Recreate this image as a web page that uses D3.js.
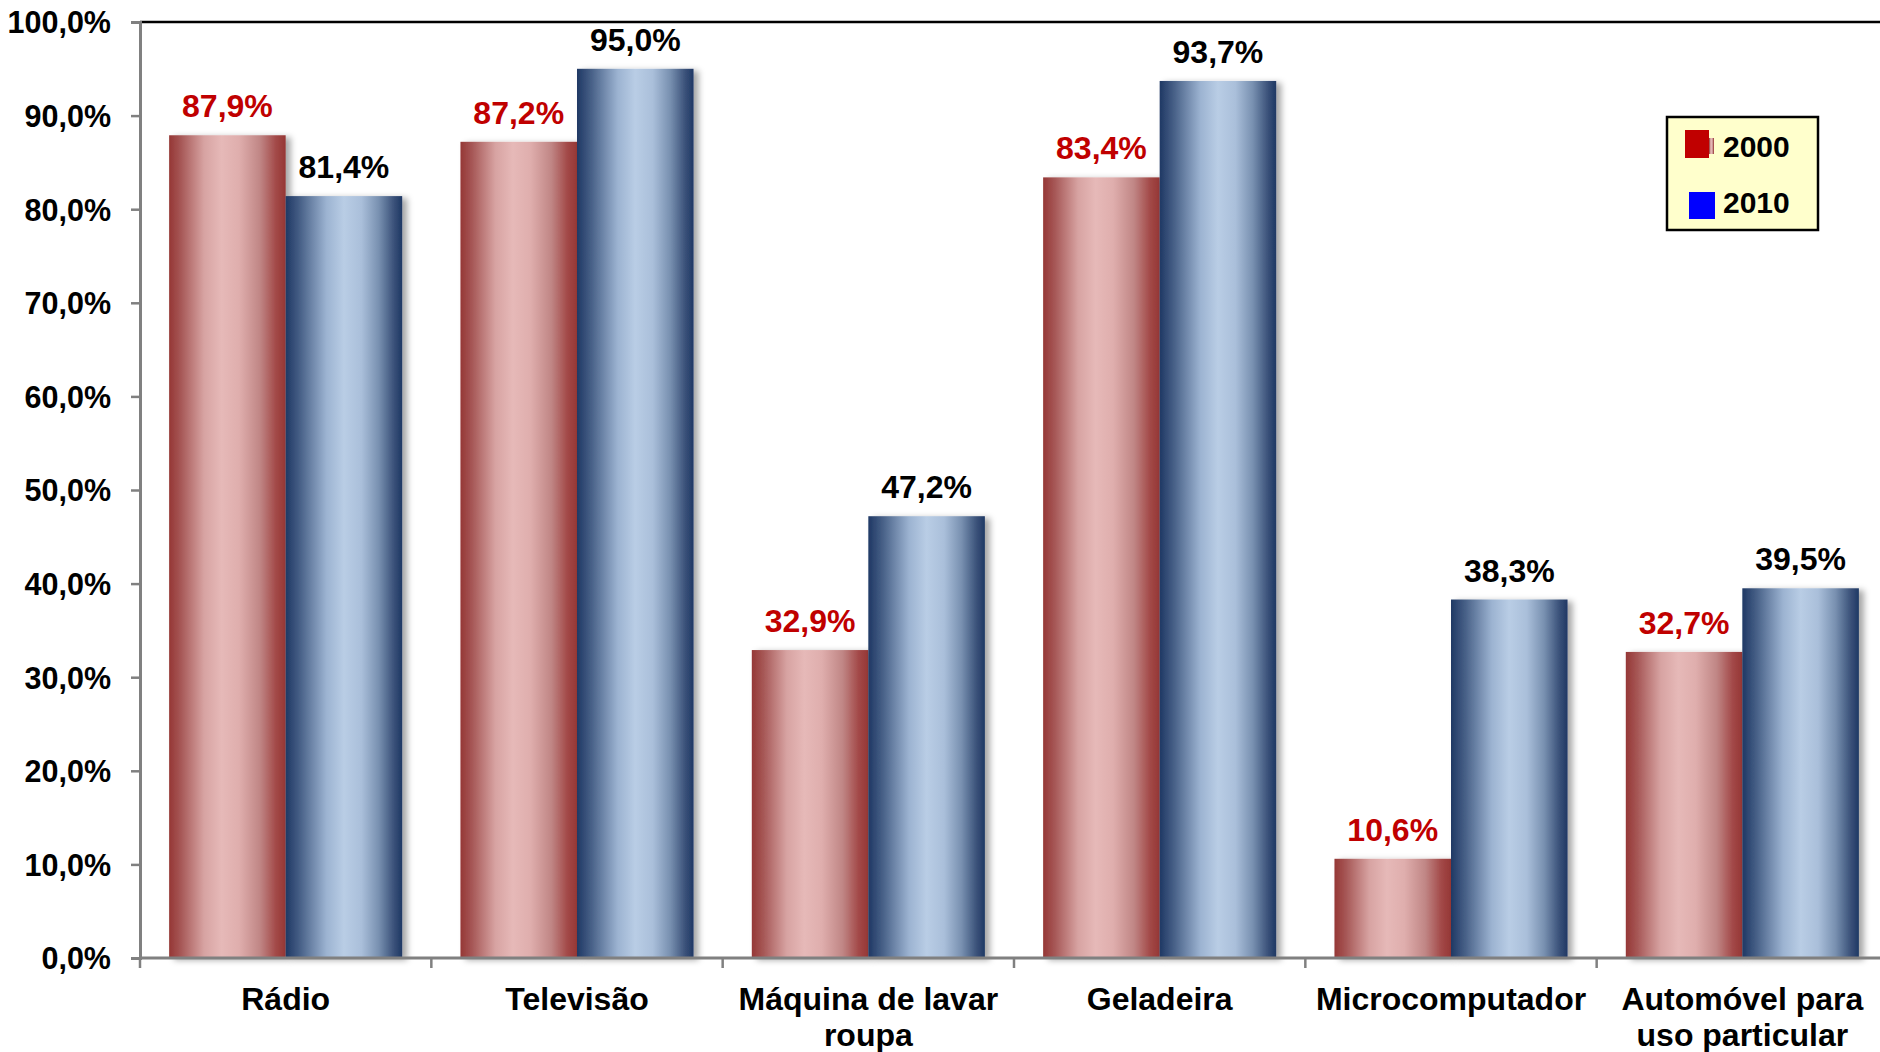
<!DOCTYPE html>
<html><head><meta charset="utf-8">
<script src="https://cdn.jsdelivr.net/npm/d3@7"></script>
<style>body{margin:0;background:#fff}svg{display:block;font-family:"Liberation Sans",Arial,sans-serif;font-weight:bold}</style>
</head><body><svg id="c" width="1880" height="1052"></svg>
<script>
const categories = [["Rádio"],["Televisão"],["Máquina de lavar","roupa"],["Geladeira"],["Microcomputador"],["Automóvel para","uso particular"]];
const series = ["2000","2010"];
const values2000 = [87.9, 87.2, 32.9, 83.4, 10.6, 32.7];
const values2010 = [81.4, 95.0, 47.2, 93.7, 38.3, 39.5];
const yTicks = [0,10,20,30,40,50,60,70,80,90,100];

const svg = d3.select("#c");
const m = {l:140, t:22, b:94};
const W = 1880, H = 1052;
const xOuter = d3.scaleBand().domain(d3.range(categories.length)).range([m.l, 1888]).padding(0);
const x1 = d3.scaleBand().domain(series).range([0, xOuter.bandwidth()]).paddingInner(0).paddingOuter(0.25);
const y = d3.scaleLinear().domain([0,100]).range([H - m.b, m.t]);
const fmt = v => d3.format(".1f")(v).replace(".", ",") + "%";

const defs = svg.append("defs");
function grad(id, stops){
  const g = defs.append("linearGradient").attr("id", id).attr("x1","0").attr("x2","1").attr("y1","0").attr("y2","0");
  stops.forEach(s => g.append("stop").attr("offset", s[0]).attr("stop-color", s[1]));
}
grad("gRed", [[0,"#953735"],[0.1,"#a65756"],[0.3,"#d7a3a2"],[0.45,"#e6b9b8"],[0.6,"#dfaead"],[0.78,"#c08685"],[0.92,"#a24847"],[1,"#953735"]]);
grad("gBlue", [[0,"#1f3864"],[0.12,"#465f86"],[0.35,"#9cb3d1"],[0.5,"#b9cde5"],[0.65,"#aabfda"],[0.8,"#7890b0"],[0.93,"#3a5179"],[1,"#1f3864"]]);
const f = defs.append("filter").attr("id","sh").attr("x","-20%").attr("y","-20%").attr("width","150%").attr("height","150%");
f.append("feDropShadow").attr("dx",5).attr("dy",2).attr("stdDeviation",3).attr("flood-color","#000").attr("flood-opacity",0.35);

// top border
svg.append("line").attr("x1", m.l).attr("x2", W).attr("y1", y(100)).attr("y2", y(100)).attr("stroke","#000").attr("stroke-width",2.5);

// bars
const groups = svg.append("g").selectAll("g").data(categories).join("g")
  .attr("transform", (d,i) => `translate(${xOuter(i)},0)`);
groups.each(function(d,i){
  const g = d3.select(this);
  const vals = [values2000[i], values2010[i]];
  vals.forEach((v,k) => {
    g.append("rect").attr("x", x1(series[k])).attr("width", x1.bandwidth())
      .attr("y", y(v)).attr("height", y(0) - y(v))
      .attr("fill", k === 0 ? "url(#gRed)" : "url(#gBlue)").attr("filter","url(#sh)");
  });
  vals.forEach((v,k) => {
    g.append("text").attr("x", x1(series[k]) + x1.bandwidth()/2).attr("y", y(v) - 18)
      .attr("text-anchor","middle").attr("font-size", 32)
      .attr("fill", k === 0 ? "#c00000" : "#000").text(fmt(v));
  });
});

// y axis
const ya = svg.append("g").attr("transform", `translate(${m.l},0)`)
  .call(d3.axisLeft(y).tickValues(yTicks).tickSize(9).tickFormat(fmt));
ya.select(".domain").attr("stroke","#808080").attr("stroke-width",3);
ya.selectAll(".tick line").attr("stroke","#808080").attr("stroke-width",2.5);
ya.selectAll(".tick text").attr("font-size",30.5).attr("font-family","Liberation Sans, Arial, sans-serif").attr("font-weight","bold").attr("fill","#000").attr("x",-29).attr("dy","0.36em");

// x axis
const base = y(0);
svg.append("line").attr("x1", m.l).attr("x2", W).attr("y1", base).attr("y2", base).attr("stroke","#808080").attr("stroke-width",3);
svg.append("g").selectAll("line").data(d3.range(categories.length)).join("line")
  .attr("x1", i => xOuter(i)).attr("x2", i => xOuter(i)).attr("y1", base).attr("y2", base + 10)
  .attr("stroke","#808080").attr("stroke-width",2.5);
const cl = svg.append("g").selectAll("g").data(categories).join("g")
  .attr("transform", (d,i) => `translate(${xOuter(i) + xOuter.bandwidth()/2},${base + 52})`);
cl.each(function(lines){
  const g = d3.select(this);
  lines.forEach((t,j) => g.append("text").attr("y", j*36)
    .attr("text-anchor","middle").attr("font-size",32).attr("fill","#000").text(t));
});

// legend
const lg = svg.append("g").attr("transform","translate(1667,117)");
lg.append("rect").attr("width",151).attr("height",113).attr("fill","#ffffcc").attr("stroke","#000").attr("stroke-width",2.5);
lg.append("rect").attr("x",42).attr("y",21).attr("width",5).attr("height",16).attr("fill","url(#gRed)");
lg.append("rect").attr("x",18).attr("y",13).attr("width",24).attr("height",28).attr("fill","#c00000");
lg.append("rect").attr("x",22).attr("y",75).attr("width",26).attr("height",27).attr("fill","#0000ff");
lg.selectAll("text.l").data(series).join("text").attr("class","l")
  .attr("x",56).attr("y",(d,i) => 40 + i*56).attr("font-size",30).attr("fill","#000").text(d => d);
</script></body></html>
